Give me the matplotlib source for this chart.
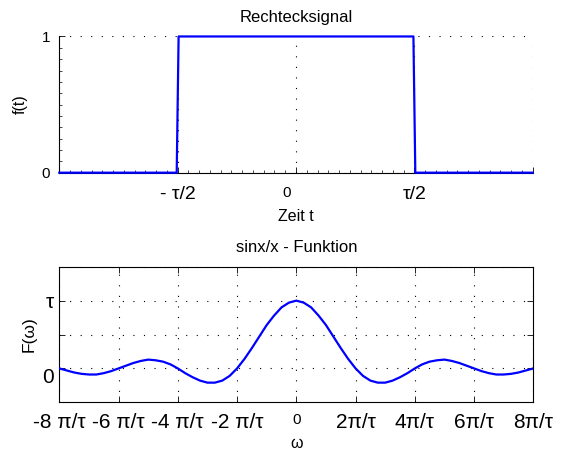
import numpy as np
import matplotlib
matplotlib.use("Agg")
import matplotlib.pyplot as plt
from matplotlib.ticker import MultipleLocator

plt.rcParams['font.family'] = ['Liberation Sans', 'DejaVu Sans']

# Rechtecksignal (t in Einheiten von tau)
t_sig = [-1.0, -0.504, -0.496, 0.496, 0.504, 1.0]
f_sig = [0, 0, 1, 1, 0, 0]
t_ticks = [-0.5, 0, 0.5, 1.0]
t_ticklabels = ['- τ/2', '0    ', 'τ/2', '']

# Spektrum F(w), w in Einheiten von pi/tau, F in Einheiten von tau
F_half = [1.00, 0.97, 0.90, 0.78, 0.64, 0.47, 0.30, 0.14,
          0.00, -0.11, -0.18, -0.21, -0.21, -0.18, -0.13, -0.07,
          0.00, 0.06, 0.10, 0.12, 0.13, 0.11, 0.08, 0.04,
          0.00, -0.04, -0.07, -0.09, -0.09, -0.08, -0.06, -0.03, 0.00]
F_vals = F_half[::-1] + F_half[1:]
w_vals = np.linspace(-8, 8, len(F_vals))
w_ticks = [-8, -6, -4, -2, 0, 2, 4, 6, 8]
w_ticklabels = ['-8 π/τ', '-6 π/τ', '-4 π/τ', '-2 π/τ', '0',
                '2π/τ', '4π/τ', '6π/τ', '8π/τ']
F_ticks = [0, 0.5, 1.0, 1.5]
F_ticklabels = ['0', '', 'τ', '']

blue = '#0000ff'
dots = dict(linestyle=(0, (1, 8.5)), linewidth=0.8, color='black')

fig = plt.figure(figsize=(5.61, 4.53), dpi=100)

# --- oben: Rechteck ---
ax1 = fig.add_axes([0.1057, 0.6188, 0.8439, 0.3007])
ax1.plot(t_sig, f_sig, color=blue, linewidth=1.6, zorder=3, clip_on=False)
ax1.set_xlim(-1, 1)
ax1.set_ylim(0, 1)
ax1.set_xticks(t_ticks)
ax1.set_xticklabels(t_ticklabels)
ax1.set_yticks([0, 1])
ax1.set_yticklabels(['0', '1'])
ax1.xaxis.set_minor_locator(MultipleLocator(0.5 / 11))
ax1.yaxis.set_minor_locator(MultipleLocator(1 / 12))
ax1.grid(True, which='major', **dots)
ax1.spines['top'].set_visible(False)
ax1.spines['right'].set_visible(False)
for s in ['left', 'bottom']:
    ax1.spines[s].set_linewidth(0.8)
ax1.tick_params(which='major', direction='in', length=4, width=0.6,
                top=False, right=False)
ax1.tick_params(which='minor', direction='in', length=2, width=0.5,
                top=False, right=False)
ax1.tick_params(axis='x', pad=9.5, labelsize=11)
ax1.tick_params(axis='y', pad=6.5, labelsize=11)
for lab in ax1.get_xticklabels():
    if 'τ' in lab.get_text():
        lab.set_fontsize(14)
ax1.set_title('Rechtecksignal', fontsize=12, pad=10.5)
ax1.set_xlabel('Zeit t', fontsize=11.5)
ax1.xaxis.set_label_coords(0.5, -0.27)
ax1.set_ylabel('f(t)', fontsize=11.5)
ax1.yaxis.set_label_coords(-0.066, 0.5)

# --- unten: sinx/x ---
ax2 = fig.add_axes([0.1057, 0.1119, 0.8450, 0.2993])
ax2.plot(w_vals, F_vals, color=blue, linewidth=1.6, zorder=3)
ax2.set_xlim(-8, 8)
ax2.set_ylim(-0.5, 1.5)
ax2.set_xticks(w_ticks)
ax2.set_xticklabels(w_ticklabels)
ax2.set_yticks(F_ticks)
ax2.set_yticklabels(F_ticklabels)
ax2.grid(True, **dots)
for s in ax2.spines.values():
    s.set_linewidth(0.8)
ax2.tick_params(direction='in', length=4, width=0.6, top=True, right=True)
ax2.tick_params(axis='x', pad=8, labelsize=15)
ax2.tick_params(axis='y', pad=4, labelsize=15)
for lab in ax2.get_xticklabels():
    if lab.get_text() == '0':
        lab.set_fontsize(11)
for lab in ax2.get_yticklabels():
    if lab.get_text() == '0':
        lab.set_verticalalignment('top')
ax2.set_title('sinx/x - Funktion', fontsize=12, pad=10.5)
ax2.set_xlabel('ω', fontsize=11.5)
ax2.xaxis.set_label_coords(0.5, -0.245)
ax2.set_ylabel('F(ω)', fontsize=12.5)
ax2.yaxis.set_label_coords(-0.047, 0.5)

fig.savefig('out.png', dpi=100)
